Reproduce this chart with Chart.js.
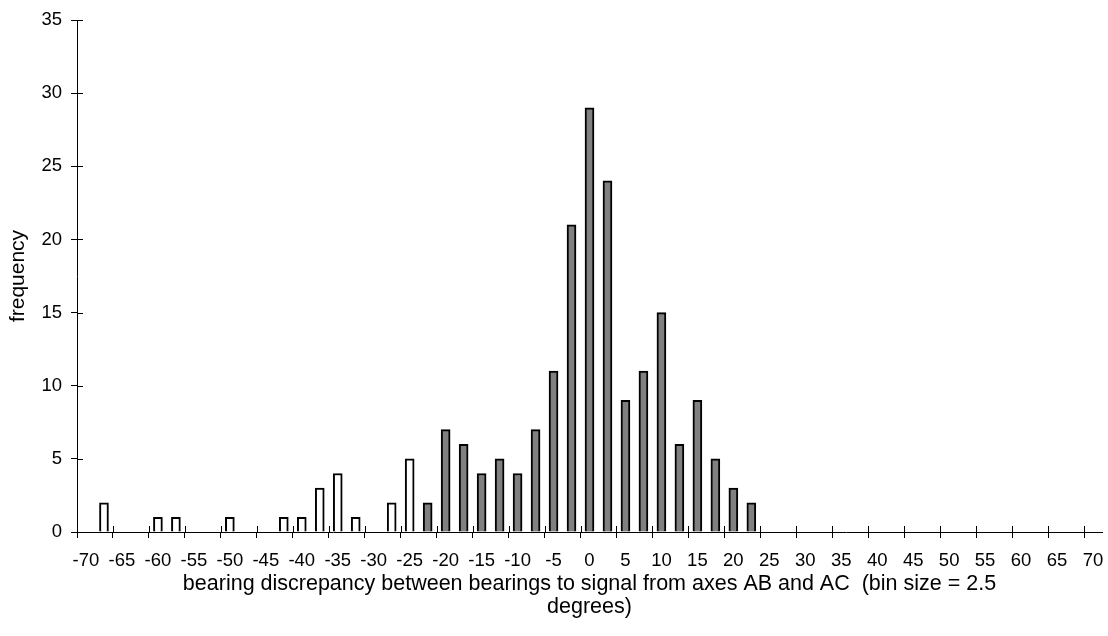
<!DOCTYPE html>
<html><head><meta charset="utf-8">
<script src="https://cdn.jsdelivr.net/npm/chart.js@4/dist/chart.umd.min.js"></script>
<style>html,body{margin:0;padding:0;background:#fff}#wrap{width:1108px;height:636px;position:relative}</style>
</head><body><div id="wrap"><canvas id="c"></canvas></div>
<script>
const categories = ['-70','-67.5','-65','-62.5','-60','-57.5','-55','-52.5','-50','-47.5','-45','-42.5','-40','-37.5','-35','-32.5','-30','-27.5','-25','-22.5','-20','-17.5','-15','-12.5','-10','-7.5','-5','-2.5','0','2.5','5','7.5','10','12.5','15','17.5','20','22.5','25','27.5','30','32.5','35','37.5','40','42.5','45','47.5','50','52.5','55','57.5','60','62.5','65','67.5','70'];
const outlierBins = ['-67.5','-60','-57.5','-50','-42.5','-40','-37.5','-35','-32.5','-27.5','-25'];
const outlierCounts = [2,1,1,1,1,1,3,4,1,2,5];
const mainBins = ['-22.5','-20','-17.5','-15','-12.5','-10','-7.5','-5','-2.5','0','2.5','5','7.5','10','12.5','15','17.5','20','22.5'];
const mainCounts = [2,7,6,4,5,4,7,11,21,29,24,9,11,15,6,9,5,3,2];
const yTicks = [0,5,10,15,20,25,30,35];
const xTitle = ['bearing discrepancy between bearings to signal from axes AB and AC  (bin size = 2.5','degrees)'];
const yTitle = 'frequency';

const FONT = "'Liberation Sans', Arial, sans-serif";
const TL = 6;

const innerTicks = {
  id: 'innerTicks',
  afterDraw(chart) {
    const ctx = chart.ctx, x = chart.scales.x, y = chart.scales.y;
    const half = (x.getPixelForValue(1) - x.getPixelForValue(0)) / 2;
    ctx.save();
    ctx.strokeStyle = '#000';
    ctx.lineWidth = 1;
    ctx.beginPath();
    for (let i = 0; i < categories.length; i += 2) {
      const px = Math.round(x.getPixelForValue(i) - half) + 0.5;
      ctx.moveTo(px, x.top);
      ctx.lineTo(px, x.top - TL);
    }
    yTicks.forEach(v => {
      const py = Math.round(y.getPixelForValue(v)) + 0.5;
      ctx.moveTo(y.right, py);
      ctx.lineTo(y.right + TL, py);
    });
    ctx.stroke();
    ctx.restore();
  }
};

new Chart(document.getElementById('c'), {
  type: 'bar',
  data: {
    labels: categories,
    datasets: [
      {
        data: outlierBins.map((b, i) => ({x: b, y: outlierCounts[i]})),
        backgroundColor: '#ffffff', borderColor: '#000000', borderWidth: 2,
        barThickness: 9, grouped: false, borderSkipped: 'bottom'
      },
      {
        data: mainBins.map((b, i) => ({x: b, y: mainCounts[i]})),
        backgroundColor: '#808080', borderColor: '#000000', borderWidth: 2,
        barThickness: 9, grouped: false, borderSkipped: 'bottom'
      }
    ]
  },
  options: {
    responsive: true, maintainAspectRatio: false, animation: false,
    layout: {padding: {top: 20, right: 6, left: 0, bottom: 0}},
    plugins: {legend: {display: false}, tooltip: {enabled: false}},
    scales: {
      x: {
        type: 'category', offset: true,
        grid: {drawOnChartArea: false, drawTicks: true, tickLength: TL, offset: true,
               color: c => (c.index % 2 === 0 ? '#000' : 'rgba(0,0,0,0)'), lineWidth: 1},
        border: {display: true, color: '#000', width: 1},
        ticks: {autoSkip: false, maxRotation: 0, minRotation: 0, padding: 12, color: '#000',
                font: {family: FONT, size: 18.5},
                callback: function(v, i) { return i % 2 === 0 ? this.getLabelForValue(v) : ''; }},
        title: {display: true, text: xTitle, color: '#000', font: {family: FONT, size: 21.5, lineHeight: '23px'},
                padding: {top: 0, bottom: 17}},
        afterFit: s => { s.height = 104; s.paddingLeft = 0; s.paddingRight = 0; }
      },
      y: {
        min: 0, max: 35,
        grid: {drawOnChartArea: false, drawTicks: true, tickLength: TL, color: '#000', lineWidth: 1},
        border: {display: true, color: '#000', width: 1},
        ticks: {stepSize: 5, padding: 9, color: '#000', font: {family: FONT, size: 18.5}},
        title: {display: true, text: yTitle, color: '#000', font: {family: FONT, size: 21, lineHeight: '23px'},
                padding: {top: 7, bottom: 0}},
        afterFit: s => { s.width = 77; s.paddingTop = 0; s.paddingBottom = 0; }
      }
    }
  },
  plugins: [innerTicks]
});
</script>
</body></html>
